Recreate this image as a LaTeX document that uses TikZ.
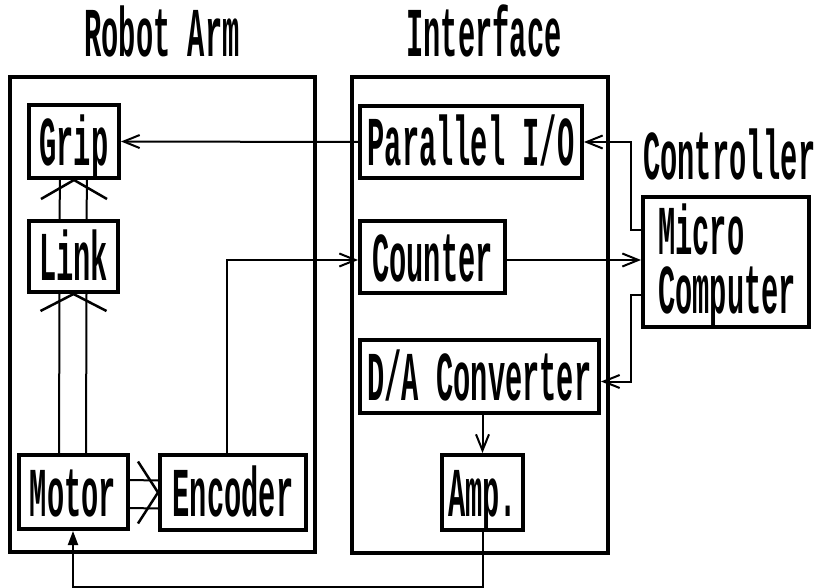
\documentclass[tikz,border=0pt]{standalone}
\usepackage{fontspec}
\newfontfamily\plotfont[FakeStretch=0.41]{Liberation Mono}
\usetikzlibrary{arrows.meta, positioning, calc}

\begin{document}
\begin{tikzpicture}[x=1pt, y=-1pt,
    lbl/.style={font=\plotfont\bfseries\fontsize{70}{70}\selectfont, inner sep=0pt},
    blk/.style={lbl, draw, line width=4pt, text height=48pt, text depth=0pt},
    grp/.style={draw, line width=4pt, inner sep=0pt},
    sig/.style={line width=2pt, -{Straight Barb[length=16pt, width=13pt, line width=2pt]}},
    shaft/.style={line width=2pt},
    chev/.style={line width=2.5pt}]
    \useasboundingbox (0,0) rectangle (822,588);
    % groups
    \node[grp, minimum width=305pt, minimum height=475pt] (arm) at (162.5,314.5) {};
    \node[grp, minimum width=256pt, minimum height=476pt] (iface) at (480,315) {};
    \node[lbl, anchor=base] (armttl) at (162,57) {Robot Arm};
    \node[lbl, anchor=base] (ifacettl) at (484,57) {Interface};
    % robot arm
    \node[blk, minimum width=90pt, minimum height=73pt] (grip) at (74,141.5) {Grip};
    \node[blk, minimum width=89pt, minimum height=71pt] (link) at (73.5,256.5) {Link};
    \node[blk, minimum width=109pt, minimum height=74pt] (motor) at (73,492) {Motor};
    \node[blk, minimum width=146pt, minimum height=75pt] (encoder) at (233,492.5) {Encoder};
    % interface
    \node[blk, minimum width=222pt, minimum height=72pt] (par) at (471,142) {Parallel I/O};
    \node[blk, minimum width=145pt, minimum height=72pt] (counter) at (432.5,257) {Counter};
    \node[blk, minimum width=239pt, minimum height=73pt] (dac) at (479.5,376.5) {D/A Converter};
    \node[blk, minimum width=81pt, minimum height=75pt] (amp) at (482.5,492.5) {Amp.};
    % controller
    \node[lbl, anchor=base west] (ctrlttl) at (643,180) {Controller};
    \node[grp, minimum width=166pt, minimum height=130pt] (micro) at (726,262) {};
    \node[lbl, align=left, anchor=north west, font=\plotfont\bfseries\fontsize{70}{59}\selectfont]
        (microtxt) at (658,204) {Micro\\Computer};

    % mechanical links
    \draw[shaft] ([xshift=-14pt]motor.north) -- ([xshift=-14pt]link.south |- link.south);
    \draw[shaft] ([xshift=13pt]motor.north) -- ([xshift=13pt]link.south |- link.south);
    \draw[chev] ([shift={(-33,17)}]link.south) -- (link.south) -- ([shift={(33,17)}]link.south);
    \draw[shaft] ([xshift=-14pt]link.north) -- ([xshift=-14pt]grip.south |- grip.south);
    \draw[shaft] ([xshift=13pt]link.north) -- ([xshift=13pt]grip.south |- grip.south);
    \draw[chev] ([shift={(-33,19)}]grip.south) -- (grip.south) -- ([shift={(33,19)}]grip.south);
    \draw[shaft] ([yshift=12pt]motor.east) -- ([yshift=12pt]encoder.west);
    \draw[shaft] ([yshift=-16pt]motor.east) -- ([yshift=-16pt]encoder.west);
    \draw[chev] ([shift={(-20,-31)}]encoder.west) -- (encoder.west) -- ([shift={(-20,31)}]encoder.west);

    % signals
    \draw[sig] (par.west) -- (grip.east);
    \draw[sig] ([xshift=-6pt]encoder.north) |- ([yshift=-3pt]counter.west);
    \draw[sig] ([yshift=-3pt]counter.east) -- ([yshift=-3pt]counter.east -| micro.west);
    \draw[sig] ([yshift=32pt]micro.west) -- ++(-10,0) |- (par.east);
    \draw[sig] ([yshift=-33pt]micro.west) -- ++(-10,0) |- ([yshift=-5pt]dac.east);
    \draw[sig] (dac.south -| amp.north) -- (amp.north);
    \draw[line width=2pt, -{Triangle[length=14pt, width=10pt]}] (amp.south) -- ++(0,55) -| (motor.south);
\end{tikzpicture}
\end{document}
